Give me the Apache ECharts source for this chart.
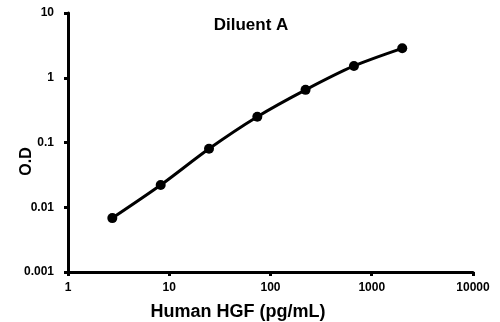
<!DOCTYPE html>
<html><head><meta charset="utf-8">
<script src="https://cdn.jsdelivr.net/npm/echarts@6/dist/echarts.min.js"></script>
<style>html,body{margin:0;padding:0;background:#fff}#c{width:500px;height:322px}</style>
</head><body><div id="c"></div>
<script>
const concentrations = [2.74, 8.23, 24.7, 74.1, 222, 667, 2000];
const odValues = [0.0068, 0.022, 0.08, 0.25, 0.65, 1.52, 2.85];
const xTickLabels = ['1', '10', '100', '1000', '10000'];
const yTickLabels = ['0.001', '0.01', '0.1', '1', '10'];

const chart = echarts.init(document.getElementById('c'), null, {renderer: 'canvas'});
const fontFam = 'Liberation Sans, Arial, sans-serif';
chart.setOption({
  animation: false,
  title: {text: 'Diluent A', left: 246, top: 12, textAlign: 'center',
    textStyle: {fontFamily: fontFam, fontWeight: 'bold', fontSize: 17, color: '#000'}},
  grid: {left: 68, right: 27, top: 13, bottom: 50, containLabel: false, outerBoundsMode: 'none'},
  xAxis: {type: 'log', logBase: 10, min: 1, max: 10000,
    name: 'Human HGF (pg/mL)', nameLocation: 'middle', nameGap: 31, nameMoveOverlap: false,
    nameTextStyle: {fontFamily: fontFam, fontWeight: 'bold', fontSize: 18, color: '#000', padding: [0, 65, 0, 0]},
    axisLine: {lineStyle: {color: '#000', width: 3}},
    axisTick: {show: true, inside: false, length: 4, lineStyle: {width: 3, color: '#000'}},
    minorTick: {show: false}, splitLine: {show: false},
    axisLabel: {fontFamily: fontFam, fontWeight: 'bold', fontSize: 12, color: '#000', margin: 10,
      formatter: v => xTickLabels[Math.round(Math.log10(v))]}},
  yAxis: {type: 'log', logBase: 10, min: 0.001, max: 10,
    name: 'O.D', nameLocation: 'middle', nameGap: 33, nameRotate: 90, nameMoveOverlap: false,
    nameTextStyle: {fontFamily: fontFam, fontWeight: 'bold', fontSize: 16, color: '#000', padding: [0, 38, 0, 0]},
    axisLine: {show: true, lineStyle: {color: '#000', width: 3}},
    axisTick: {show: true, inside: false, length: 4, lineStyle: {width: 3, color: '#000'}},
    splitLine: {show: false},
    axisLabel: {fontFamily: fontFam, fontWeight: 'bold', fontSize: 12, color: '#000', margin: 14,
      formatter: v => yTickLabels[Math.round(Math.log10(v)) + 3]}},
  series: [{type: 'line', smooth: 0.3,
    data: concentrations.map((c, i) => [c, odValues[i]]),
    symbol: 'circle', symbolSize: 10,
    itemStyle: {color: '#000'},
    lineStyle: {color: '#000', width: 3}}]
});
</script></body></html>
